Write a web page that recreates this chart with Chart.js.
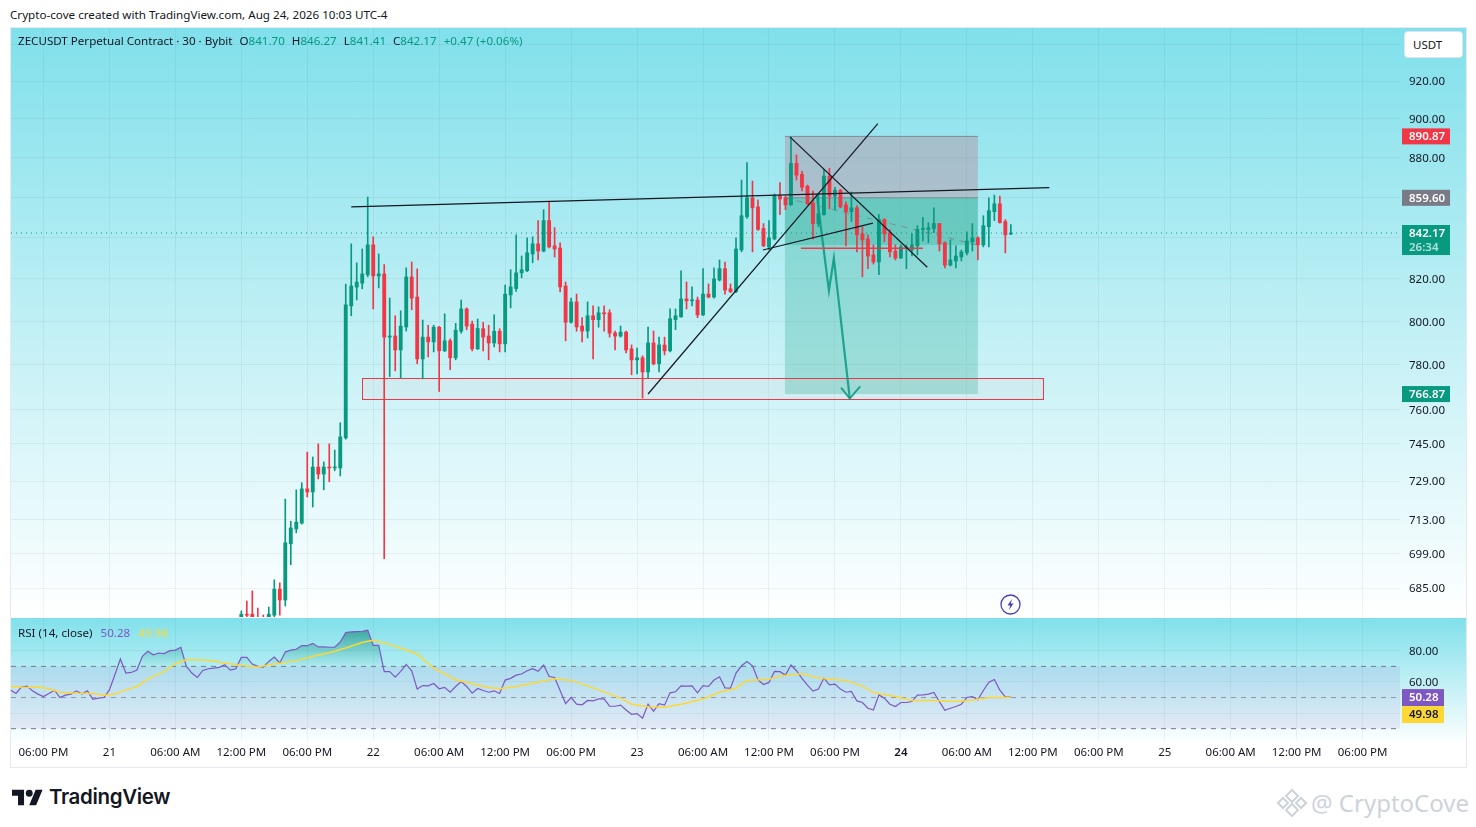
<!DOCTYPE html>
<html>
<head>
<meta charset="utf-8">
<title>ZECUSDT</title>
<script src="https://cdn.jsdelivr.net/npm/chart.js@4"></script>
<style>
  html, body { margin: 0; padding: 0; background: #fff; width: 1476px; height: 827px; overflow: hidden; }
  body { font-family: "Noto Sans", sans-serif; color: #131722; position: relative; }
  .abs { position: absolute; white-space: nowrap; }
  #mainPane { left: 10px; top: 27px; width: 1456px; height: 590px; background: linear-gradient(#80e0eb, #ffffff); }
  #rsiPane { left: 10px; top: 618px; width: 1456px; height: 149px; background: linear-gradient(#80e0eb 0, #ffffff 127px); }
  #frame { left: 10px; top: 27px; width: 1455px; height: 739px; border: 1px solid #e6e9ef; }
  #credit { left: 10px; top: 7px; font-size: 11.65px; line-height: 16px; }
  #legend { left: 18px; top: 33px; font-size: 11.6px; line-height: 16px; }
  #legend b { font-weight: 400; color: #089981; }
  #legend span { margin-left: 7px; }
  #rsiLegend { left: 18px; top: 625px; font-size: 11.6px; line-height: 16px; }
  #rsiLegend span { margin-left: 8px; }
  #usdt { left: 1404px; top: 31px; width: 57px; height: 25px; background: #fff; border: 1px solid #e0e3eb; border-radius: 4px; font-size: 11.5px; line-height: 25px; text-indent: 8px; }
  #logoText { left: 49px; top: 783px; font-family: Inter, sans-serif; font-weight: 600; font-size: 20.5px; line-height: 28px; letter-spacing: -0.35px; color: #131722; }
  #mark { left: 1311px; top: 786px; font-size: 24px; line-height: 34px; color: #cdd3da; }
</style>
</head>
<body>
<div class="abs" id="mainPane"></div>
<div class="abs" id="rsiPane"></div>
<canvas class="abs" id="mainChart" width="1456" height="590" style="left:10px;top:27px;width:1456px;height:590px"></canvas>
<canvas class="abs" id="rsiChart" width="1456" height="149" style="left:10px;top:618px;width:1456px;height:149px"></canvas>
<div class="abs" id="frame"></div>

<div class="abs" id="credit">Crypto-cove created with TradingView.com, Aug 24, 2026 10:03 UTC-4</div>
<div class="abs" id="legend">ZECUSDT Perpetual Contract · 30 · Bybit<span>O<b>841.70</b></span><span>H<b>846.27</b></span><span>L<b>841.41</b></span><span>C<b>842.17</b></span><span><b>+0.47 (+0.06%)</b></span></div>
<div class="abs" id="rsiLegend">RSI (14, close)<span style="color:#7e57c2">50.28</span><span style="color:#fdd835">49.98</span></div>
<div class="abs" id="usdt">USDT</div>

<svg class="abs" style="left:1000px;top:594px" width="21" height="21" viewBox="0 0 21 21">
  <circle cx="10.5" cy="10.5" r="9.5" fill="none" stroke="#4b3fb8" stroke-width="1.3"/>
  <path d="M12 5 L7.5 11.5 H10.2 L9 16 L13.5 9.5 H10.8 Z" fill="#4b3fb8"/>
</svg>

<svg class="abs" style="left:12px;top:788px" width="31" height="19" viewBox="0 4 36 18">
  <path d="M14 22H7V11H0V4h14v18zM28 22h-8l7.5-18h8L28 22z" fill="#131722"/>
  <circle cx="20" cy="8" r="4" fill="#131722"/>
</svg>
<div class="abs" id="logoText">TradingView</div>

<svg class="abs" style="left:1277px;top:788px" width="30" height="30" viewBox="0 0 30 30" fill="none" stroke="#cdd3da" stroke-width="2">
  <path d="M15 2 L21 8 L15 14 L9 8 Z"/>
  <path d="M6 10 L11 15 L6 20 L1 15 Z"/>
  <path d="M24 10 L29 15 L24 20 L19 15 Z"/>
  <path d="M15 16 L21 22 L15 28 L9 22 Z"/>
</svg>
<div class="abs" id="mark">@ CryptoCove</div>

<script>
'use strict'

// candles from the 12:00 PM Aug 21 bar onward, one per 30 minutes
const opens = [672,674.7,674.7,673,673,672,674.3,684.6,680.3,702.9,709,711.4,725.7,724.4,735,732,735,734.6,734.6,747.6,
  807.2,816.1,818,822,836.4,821.4,822.4,792.7,793.2,786.8,797.4,820.9,811.4,782.7,792.7,790.5,797.3,786.4,791,783.2,
  795.4,805.8,798.7,787.3,796.6,793.2,790,795.4,789.6,812.4,815.4,822.9,823.9,832,836.9,833.4,848.3,835.9,834.9,816.6,
  799.6,809.1,797.8,795.5,802.6,800.8,804,804,794.6,793.2,795,787.3,782.3,783.2,776.8,790,780.5,789.1,786.4,800.8,
  802.1,810.5,809.6,810,803,812.8,811.4,819.5,824.9,815.3,813.9,833.9,850.2,859.6,855.1,844.4,835.4,839.3,860.5,859.6,
  856.1,877,871.4,865.4,857.1,846.8,851.2,870.5,860.5,863.4,856.1,852.7,854.6,841.8,839.3,831.5,828.1,848.8,842.3,833.4,
  830,834.9,833.9,835.9,843.9,843.9,844.4,846.8,837.4,826.6,828.6,830.5,832.5,837.9,839.8,836.4,845.3,852.7,856.6,847.8,841.7]
const highs = [676,679.9,683.9,677.1,674.4,677.5,688.3,687.1,721.4,712.2,725.3,728.3,741.4,739.3,745,737.2,745,742.3,754.2,817.5,
  836.9,827.7,834.4,860,840.3,832,826.8,810.9,802.6,804.9,825.3,828.1,824.8,800.6,798.2,798.2,797.7,803.5,791.9,799.1,
  810,806.3,800.1,801.1,799.6,798.2,803,796.6,817,824.4,841.3,831,839.8,840.3,848.3,853.7,857.6,844.8,837.4,818.5,
  810.9,812.8,801.7,809.1,807.2,806.8,807.2,805.4,795.5,797.8,795.5,789.1,787.7,784.1,797.3,795.5,792.7,792.7,805.8,805.8,
  823.9,818.5,816.2,811.4,824.9,817.6,825.3,829.1,828.1,817.6,839.8,868.5,877.4,868,858.6,846.8,848.3,861.5,867.3,860.5,
  890.5,881.3,872.9,866,863,861.5,874,874.5,864.9,863.9,857.6,862.5,855.6,845.3,841.3,836.4,851.2,849.3,843.9,836.4,
  836.4,836.4,841.8,845.8,849.8,847.3,854.6,846.8,837.9,838.8,835.9,833.9,842.8,846.8,840.3,850.7,859.6,861,860.5,848.8,846.27]
const lows = [669,673,670,669,669,671,673.5,674.3,677.9,694.4,707.4,711,722.3,718.1,729.9,725.3,728.7,733.4,731.2,747,
  802.6,810,815.3,821,805.8,815.7,696.8,774.7,777.3,774.1,795.5,805.4,780.5,773.7,783.6,785.9,768,786,777.8,782.3,
  794.5,796.1,786.4,787,786.4,782.3,788.2,785.9,785.9,806.3,814,820.5,823.5,827.7,829.1,833,834.9,830.5,813.8,791,
  799.1,795.4,790.5,792.3,782.7,797.3,795.5,792.7,786.8,792.7,785.4,775.5,775.9,765.1,774.1,780,776.8,784.5,785.9,796.1,
  802,805.8,807.2,801.7,802.6,811,810.9,819,812.8,813.5,813.5,833,849.3,833,843.4,835.5,833.9,838.8,851.2,853.7,
  855.8,868.5,863,856.3,839.3,845.3,851,854.1,853.6,854.6,835.9,847.8,833,821,824.9,827.1,822,837.9,830.5,829.1,
  830,824.9,831,831.5,838.3,837.4,842.3,833.4,825.3,826.2,825.3,828.6,831.5,833.4,829.1,835.4,835.4,848.3,847,832.5,841.41]
const closes = [674.7,674.3,672,671,671,674.7,684.6,680.3,703.3,709.4,711.8,725.7,724.4,735,732,735,734.6,735,748,807.7,
  816.6,818.5,822.4,836.4,821.4,822.4,792.7,793.2,786.8,797.8,820.9,810.9,782.7,792.7,790.5,797.3,786.4,791,783.2,795.9,
  805.8,797.8,787.3,796.7,792.7,790,795.4,789.6,812.8,816.2,822.9,824.4,832.5,836.9,833.4,848.3,835.4,834.4,816.2,799.6,
  809.1,797.4,795.5,802.6,800.8,804,803.5,794.5,793.2,795,786.8,782.3,783.2,776.8,790,780.5,789.1,786.4,801.2,802.6,
  810.5,809.6,810,803,812.8,811.4,820,824.9,814.7,813.9,834.4,850.7,859.6,854.6,843.9,835.9,839.8,860.5,859,856.1,
  877,871,864.9,856.6,846.8,851.7,870.5,860.5,863.4,855.1,852.7,854.6,841.3,838.8,831,828.1,848.8,841.8,833,830,
  835.4,835.4,836.4,843.9,844.4,844.8,846.8,836.9,826.6,829.1,831,833,838.3,839.8,836.4,845.8,853.2,856.6,847.3,841.3,842.17]

// RSI(14) per bar, the first value belongs to bar -42
const rsiStart = -42
const rsiValues = [54.9,52.6,56.7,57.3,54.3,52.2,50.6,52.6,54.7,50,51.5,52.2,54.3,52.2,54.3,48.9,49.6,50,54.9,64.6,74.7,65.7,66.1,67.6,
  76.5,79.7,77.5,78.6,78.2,80.1,80.5,82.3,70,65.7,62.9,67.4,68.5,68.9,69.4,71.1,67.6,68.5,75.8,75.8,71.5,70,69.6,73.2,76,72.2,
  79.2,80.5,81,83.3,83.3,84.8,82.5,82.5,82.3,82.3,85.7,91.7,92.2,92.4,92.6,93.2,83.5,83.5,66.6,66.6,63.1,66.8,71.3,67.2,
  55.4,57.7,57.5,59,55.6,56.5,53.4,57.1,60.3,57.1,52.8,55.8,54.5,53.4,54.3,52.6,
  61.2,62.3,64.4,65.1,67.2,68.5,66.8,70.9,63.5,62.9,54.5,46.1,50,45.7,45.3,48.1,47.8,49.1,49.1,44.4,44.4,45.1,42,39.2,39.7,36.7,
  45.7,41.2,46.1,45.1,53,53.7,57.5,57.3,57.5,53,57.7,57.1,61.2,63.3,56.2,56,65.7,70.4,73.2,70.4,61.4,58.4,59.7,66.8,66.6,64.4,
  70.9,67.2,62.3,58,54.1,55.4,62.5,58.2,58.6,55.4,53.4,53.9,47.8,46.8,43.1,42,51.7,49.6,45.7,44.2,46.8,46.8,47.4,51.5,51.7,52.2,
  53.2,47.4,41.8,43.1,44.2,45.7,50,50.6,48.5,54.5,59.9,61.6,54.7,50.4,50.28]
const rsiMaBars = [-42,-39,-37,-35,-33,-30,-27,-25,-23,-21,-19,-17,-14,-12,-10,-9,-6,-3,0,3,6,10,13,16,19,22,24,26,30,32,35,39,42,45,47,
  50,53,57,60,63,65,69,71,74,77,80,84,87,90,92,96,98,102,105,110,113,115,119,122,126,130,133,136,140]
const rsiMaValues = [57.1,56.5,56.7,55.6,53.4,52.8,52.6,51.5,52.2,54.9,57.1,61.8,66.8,71.7,74.3,74.3,73.9,72.2,70.6,69.6,71.5,73.7,76.5,78.8,81.8,85.3,86.8,85.1,80.5,78,68.9,61.4,58.8,56.5,55.6,
  57.1,59.2,62,61,57.5,54.9,49.6,45.7,44,43.8,45.7,49.1,53.4,56,61,61.8,63.8,65.3,62.5,61,57.3,53.2,50.6,48.1,48.1,47.4,48.3,50,49.98]

// axis ticks
const priceTicks = [940,920,900,880,860,840,820,800,780,760,745,729,713,699,685]
const hiddenPriceTicks = [940,860,840]
const rsiTicks = [80,60,40]
const hiddenRsiTicks = [40]
const timeBars = [-36,-24,-12,0,12,24,36,48,60,72,84,96,108,120,132,144,156,168,180,192,204]
const timeLabels = ['06:00 PM','21','06:00 AM','12:00 PM','06:00 PM','22','06:00 AM','12:00 PM','06:00 PM','23','06:00 AM','12:00 PM','06:00 PM','24','06:00 AM','12:00 PM','06:00 PM','25','06:00 AM','12:00 PM','06:00 PM']

// price tags on the right axis
const lastPrice = 842.17
const countdown = '26:34'
const stopPrice = 890.87
const entryPrice = 859.6
const targetPrice = 766.87
const positionCloseBar = 134
const positionCloseAt = 836.3
const positionStartBar = 98.9
const rsiLast = 50.28
const rsiMaLast = 49.98

// drawings on the chart, bars and prices
const topLine = [{x:20,y:855.1},{x:147,y:864.7}]
const riseLine = [{x:74,y:766.9},{x:115.8,y:897.5}]
const fallLine = [{x:99.8,y:890.6},{x:124.8,y:825.6}]
const wedgeLine = [{x:94.9,y:833.9},{x:114.9,y:847}]
const redLine = [{x:101.8,y:834.7},{x:124,y:834.7}]
const arrowPath = [{x:104.7,y:861.1},{x:106.9,y:814.4},{x:107.8,y:829.9},{x:110.7,y:764.9}]
const arrowHead = [{x:109.1,y:769.8},{x:110.7,y:764.9},{x:112.6,y:770.3}]
const zoneBars = [22,145.9]
const zonePrices = [774.2,764.7]

const green = '#089981'
const red = '#f23645'
const gridColor = 'rgba(42,46,57,0.06)'
const xMin = -41.9
const xMax = 210.8
const axisFont = { family: '"Noto Sans", sans-serif', size: 11.5 }

const barColors = closes.map((c, i) => c >= opens[i] ? green : red)

function lineSet(points, color, width, extra) {
  return Object.assign({
    type: 'line', data: points, borderColor: color, borderWidth: width,
    pointRadius: 0, tension: 0, fill: false, order: 1
  }, extra || {})
}

// scales must not reserve room for half a tick label
function noPad(s) {
  s.paddingTop = 0
  s.paddingBottom = 0
  s.paddingLeft = 0
  s.paddingRight = 0
}

function tag(ctx, y, h, w, color, text, textColor) {
  ctx.fillStyle = color
  ctx.fillRect(1392, y - h / 2, w, h)
  ctx.fillStyle = textColor
  ctx.font = '600 11.5px "Noto Sans", sans-serif'
  ctx.textAlign = 'left'
  ctx.textBaseline = 'middle'
  ctx.fillText(text, 1399, y + 0.5)
}

const positionPlugin = {
  id: 'position',
  beforeDatasetsDraw(chart) {
    const c = chart.ctx, xs = chart.scales.x, ys = chart.scales.y
    const l = xs.getPixelForValue(positionStartBar), r = xs.getPixelForValue(positionCloseBar)
    const stop = ys.getPixelForValue(stopPrice), entry = ys.getPixelForValue(entryPrice)
    const target = ys.getPixelForValue(targetPrice), close = ys.getPixelForValue(positionCloseAt)
    c.save()
    c.fillStyle = 'rgba(182,132,151,0.4)'
    c.fillRect(l, stop, r - l, entry - stop)
    c.fillStyle = 'rgba(40,169,143,0.28)'
    c.fillRect(l, entry, r - l, target - entry)
    c.fillStyle = 'rgba(40,169,143,0.3)'
    c.fillRect(l, entry, r - l, close - entry)
    c.strokeStyle = 'rgba(120,123,134,0.8)'
    c.lineWidth = 1
    c.beginPath()
    c.moveTo(l, stop); c.lineTo(r, stop)
    c.moveTo(l, entry); c.lineTo(r, entry)
    c.stroke()
    c.setLineDash([6, 6])
    c.strokeStyle = 'rgba(120,123,134,0.7)'
    c.beginPath()
    c.moveTo(l, entry); c.lineTo(r, close)
    c.stroke()
    c.restore()
    // support zone, snapped so the border stays crisp
    const zl = Math.round(xs.getPixelForValue(zoneBars[0])) + 0.5, zr = Math.round(xs.getPixelForValue(zoneBars[1])) + 0.5
    const zt = Math.round(ys.getPixelForValue(zonePrices[0])) + 0.5, zb = Math.round(ys.getPixelForValue(zonePrices[1])) + 0.5
    c.save()
    c.fillStyle = 'rgba(242,54,69,0.03)'
    c.fillRect(zl, zt, zr - zl, zb - zt)
    c.strokeStyle = red
    c.lineWidth = 1
    c.strokeRect(zl, zt, zr - zl, zb - zt)
    c.restore()
  },
  afterDraw(chart) {
    const c = chart.ctx, ys = chart.scales.y
    tag(c, ys.getPixelForValue(stopPrice), 16, 48, red, stopPrice.toFixed(2), '#fff')
    tag(c, ys.getPixelForValue(entryPrice), 16, 48, '#787b86', entryPrice.toFixed(2), '#fff')
    tag(c, ys.getPixelForValue(targetPrice), 16, 48, green, targetPrice.toFixed(2), '#fff')
    const y = ys.getPixelForValue(lastPrice)
    c.fillStyle = green
    c.fillRect(1392, y - 8, 48, 30)
    tag(c, y, 16, 48, green, lastPrice.toFixed(2), '#fff')
    c.fillStyle = 'rgba(255,255,255,0.7)'
    c.fillText(countdown, 1399, y + 14.5)
  }
}

const mainChart = new Chart(document.getElementById('mainChart').getContext('2d'), {
  type: 'bar',
  data: {
    datasets: [
      { label: 'wick', data: highs.map((h, i) => ({ x: i, y: [lows[i], h] })), backgroundColor: barColors, barThickness: 1, grouped: false, order: 3, borderWidth: 0 },
      { label: 'body', data: opens.map((o, i) => ({ x: i, y: [o, closes[i]] })), backgroundColor: barColors, barThickness: 3.2, grouped: false, order: 2, borderWidth: 0, minBarLength: 1 },
      lineSet([{ x: xMin, y: lastPrice }, { x: xMax, y: lastPrice }], green, 1, { borderDash: [1, 4], order: 4 }),
      lineSet(topLine, '#131722', 1.2),
      lineSet(riseLine, '#131722', 1.2),
      lineSet(fallLine, '#131722', 1.2),
      lineSet(wedgeLine, '#131722', 1.2),
      lineSet(redLine, red, 1.5),
      lineSet(arrowPath, 'rgba(8,153,129,0.85)', 2.2),
      lineSet(arrowHead, 'rgba(8,153,129,0.85)', 2)
    ]
  },
  plugins: [positionPlugin],
  options: {
    responsive: false,
    animation: false,
    events: [],
    layout: { padding: { left: 1 } },
    plugins: { legend: { display: false }, tooltip: { enabled: false } },
    scales: {
      x: {
        type: 'linear', min: xMin, max: xMax, offset: false,
        grid: { color: gridColor, offset: false, drawTicks: false },
        border: { display: false },
        ticks: { display: false },
        afterBuildTicks: s => { s.ticks = timeBars.map(v => ({ value: v })) },
        afterFit: s => { s.height = 0; noPad(s) }
      },
      y: {
        type: 'logarithmic', position: 'right', min: 673.6, max: 949.4,
        grid: { color: gridColor, drawTicks: false },
        border: { display: false },
        ticks: {
          autoSkip: false, padding: 9, labelOffset: 1, color: '#131722', font: axisFont,
          callback: v => hiddenPriceTicks.includes(v) ? '' : v.toFixed(2)
        },
        afterBuildTicks: s => { s.ticks = priceTicks.map(v => ({ value: v })) },
        afterFit: s => { s.width = 66; noPad(s) }
      }
    }
  }
})

const rsiCanvas = document.getElementById('rsiChart')
const rsiCtx = rsiCanvas.getContext('2d')
const obFill = rsiCtx.createLinearGradient(0, 10, 0, 49)
obFill.addColorStop(0, 'rgba(8,120,100,0.6)')
obFill.addColorStop(1, 'rgba(8,153,129,0)')

const rsiTagPlugin = {
  id: 'rsiTags',
  afterDraw(chart) {
    const c = chart.ctx, ys = chart.scales.y
    const y = ys.getPixelForValue(rsiLast) + 0.5
    tag(c, y, 17, 42, '#7e57c2', rsiLast.toFixed(2), '#fff')
    tag(c, y + 17, 17, 42, '#fdd835', rsiMaLast.toFixed(2), '#131722')
  }
}

const rsiChart = new Chart(rsiCtx, {
  type: 'line',
  data: {
    datasets: [
      lineSet([{ x: xMin, y: 70 }, { x: xMax, y: 70 }], '#787b86', 1, { borderDash: [5, 5], fill: { target: { value: 30 }, above: 'rgba(126,87,194,0.1)', below: 'transparent' }, order: 5 }),
      lineSet([{ x: xMin, y: 50 }, { x: xMax, y: 50 }], 'rgba(120,123,134,0.7)', 1, { borderDash: [5, 5], order: 5 }),
      lineSet([{ x: xMin, y: 30 }, { x: xMax, y: 30 }], '#787b86', 1, { borderDash: [5, 5], order: 5 }),
      lineSet(rsiValues.map((v, i) => ({ x: rsiStart + i, y: v })), '#7e57c2', 1.2, { fill: { target: { value: 70 }, above: obFill, below: 'transparent' }, order: 2 }),
      lineSet(rsiMaBars.map((b, i) => ({ x: b, y: rsiMaValues[i] })), '#fdd835', 1.5, { order: 1 })
    ]
  },
  plugins: [rsiTagPlugin],
  options: {
    responsive: false,
    animation: false,
    events: [],
    layout: { padding: { left: 1 } },
    plugins: { legend: { display: false }, tooltip: { enabled: false } },
    scales: {
      x: {
        type: 'linear', min: xMin, max: xMax,
        grid: { color: gridColor, drawTicks: false },
        border: { display: false },
        ticks: {
          autoSkip: false, maxRotation: 0, padding: 6, color: '#131722',
          font: c => c.tick && c.tick.value === 120 ? Object.assign({}, axisFont, { weight: '600' }) : axisFont,
          callback: v => timeLabels[timeBars.indexOf(v)]
        },
        afterBuildTicks: s => { s.ticks = timeBars.map(v => ({ value: v })) },
        afterFit: s => { s.height = 27; noPad(s) }
      },
      y: {
        type: 'linear', position: 'right', min: 22.7, max: 101.1,
        grid: { color: gridColor, drawTicks: false },
        border: { display: false },
        ticks: {
          autoSkip: false, padding: 9, labelOffset: 1, color: '#131722', font: axisFont,
          callback: v => hiddenRsiTicks.includes(v) ? '' : v.toFixed(2)
        },
        afterBuildTicks: s => { s.ticks = rsiTicks.map(v => ({ value: v })) },
        afterFit: s => { s.width = 66; noPad(s) }
      }
    }
  }
})
</script>
</body>
</html>
